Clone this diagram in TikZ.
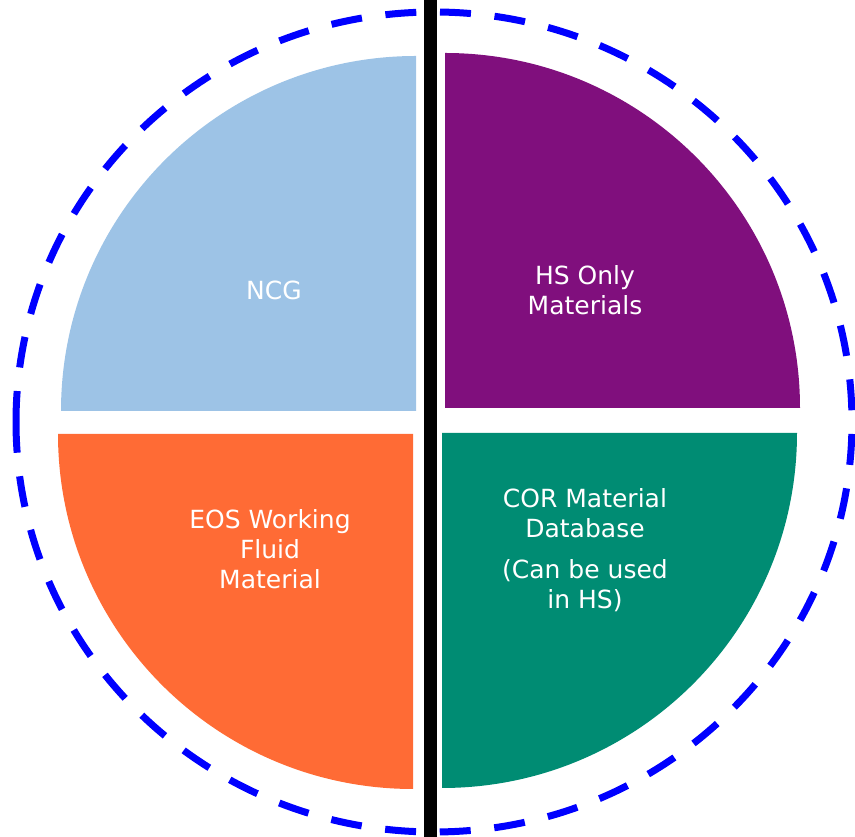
\documentclass[tikz,border=0pt]{standalone}
\usepackage{fontspec}
\setmainfont{DejaVu Sans}
\usetikzlibrary{positioning}

\definecolor{ncg-blue}{RGB}{157,195,230}
\definecolor{hs-purple}{RGB}{128,15,125}
\definecolor{eos-orange}{RGB}{255,107,53}
\definecolor{cor-teal}{RGB}{0,140,115}

\begin{document}
\begin{tikzpicture}[
                    x=1pt,
                    y=1pt,
                    label/.style={text=white, align=center,
                        font=\fontsize{25}{30}\selectfont},
                    boundary/.style={draw=blue, line width=7pt,
                        dash pattern=on 31pt off 23.7pt},
                    divider/.style={draw=black, line width=13pt}
                ]
                \useasboundingbox (0,0) rectangle (855,837);

                % quarter wedges
                \fill[ncg-blue] (416,426) -- ++(-355,0)
                    arc[start angle=180, end angle=90, radius=355pt] -- cycle;
                \fill[hs-purple] (445,429) -- ++(0,355)
                    arc[start angle=90, end angle=0, radius=355pt] -- cycle;
                \fill[eos-orange] (413,403) -- ++(-355,0)
                    arc[start angle=180, end angle=270, radius=355pt] -- cycle;
                \fill[cor-teal] (442,404) -- ++(355,0)
                    arc[start angle=0, end angle=-90, radius=355pt] -- cycle;

                \node[label] (ncg) at (274,547) {NCG} ;
                \node[label] (hs-only) at (585,546.5) {HS Only\\Materials} ;
                \node[label] (eos-fluid) at (270,287.5) {EOS Working\\Fluid\\Material} ;
                \node[label] (cor-db) at (585,287) {COR Material\\Database\\[11pt](Can be used\\in HS)} ;

                % outer boundary and split line
                \path[boundary] (16,415)
                    arc[start angle=180, end angle=-180, x radius=418pt, y radius=410pt];
                \coordinate (split-top) at (430.5,837) ;
                \coordinate (split-bottom) at (430.5,0) ;
                \path[divider] (split-top) -- (split-bottom);
            \end{tikzpicture}
\end{document}
